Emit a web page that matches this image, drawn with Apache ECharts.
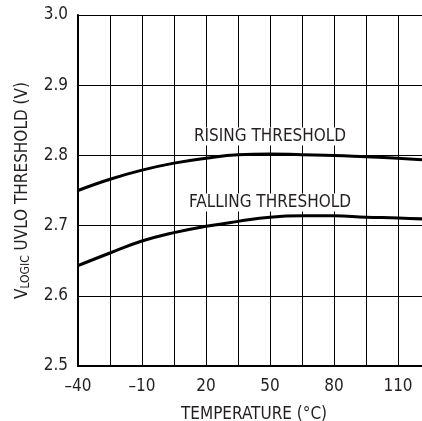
<!DOCTYPE html>
<html>
<head>
<meta charset="utf-8">
<script src="https://cdn.jsdelivr.net/npm/echarts@6/dist/echarts.min.js"></script>
<style>
html,body{margin:0;padding:0;background:#fff;}
#c{width:422px;height:421px;}
</style>
</head>
<body>
<div id="c"></div>
<script>
// Data
var temps = [-40, -25, -10, 5, 20, 35, 50, 65, 80, 95, 110, 125];
var rising = [2.750, 2.766, 2.779, 2.789, 2.796, 2.801, 2.802, 2.801, 2.800, 2.798, 2.796, 2.793];
var falling = [2.643, 2.661, 2.678, 2.690, 2.699, 2.706, 2.712, 2.714, 2.714, 2.712, 2.711, 2.709];
var xTickValues = [-40, -10, 20, 50, 80, 110];
var xTickLabels = ['\u201340', '\u201310', '20', '50', '80', '110'];
var seriesNames = ['RISING THRESHOLD', 'FALLING THRESHOLD'];
var labelAt = [[50, 2.827], [50, 2.733]];

var FONT = '"Liberation Sans Narrow", "DejaVu Sans Condensed", sans-serif';
var TXT = '#231f20';

function pairs(xs, ys) { return xs.map(function (x, i) { return [x, ys[i]]; }); }

var chart = echarts.init(document.getElementById('c'), null, {renderer: 'canvas'});
chart.setOption({
  animation: false,
  backgroundColor: '#fff',
  grid: {left: 78, right: -8, top: 15, bottom: 55, containLabel: false, outerBoundsMode: 'none'},
  xAxis: {
    type: 'value', min: -40, max: 125, interval: 15,
    name: 'TEMPERATURE (\u00B0C)', nameLocation: 'middle', nameGap: 40,
    nameTextStyle: {fontFamily: FONT, fontSize: 17, color: TXT},
    axisLine: {show: true, onZero: false, lineStyle: {color: '#000', width: 2}},
    axisTick: {show: false},
    axisLabel: {
      margin: 12, fontFamily: FONT, fontSize: 17, color: TXT,
      formatter: function (v) {
        var i = xTickValues.indexOf(Math.round(v));
        return i >= 0 ? xTickLabels[i] : '';
      }
    },
    splitLine: {show: true, lineStyle: {color: '#000', width: 1}}
  },
  yAxis: {
    type: 'value', min: 2.5, max: 3.0, interval: 0.1,
    name: '{v|V}{sub|LOGIC}{v| UVLO THRESHOLD (V)}',
    nameLocation: 'middle', nameGap: 46, nameRotate: 90,
    nameTextStyle: {
      fontFamily: FONT, fontSize: 17, color: TXT,
      rich: {
        v: {fontFamily: FONT, fontSize: 17, color: TXT},
        sub: {fontFamily: FONT, fontSize: 12, color: TXT, verticalAlign: 'bottom', padding: [6, 0, 0, 0]}
      }
    },
    axisLine: {show: true, onZero: false, lineStyle: {color: '#000', width: 2}},
    axisTick: {show: false},
    axisLabel: {
      margin: 10, fontFamily: FONT, fontSize: 17, color: TXT,
      formatter: function (v) { return v.toFixed(1); }
    },
    splitLine: {show: true, lineStyle: {color: '#000', width: 1}}
  },
  series: [
    {
      name: seriesNames[0], type: 'line', smooth: 0.45, symbol: 'none',
      lineStyle: {color: '#000', width: 3},
      data: pairs(temps, rising),
      markPoint: {
        symbol: 'rect', symbolSize: 0,
        label: {show: true, formatter: seriesNames[0], fontFamily: FONT, fontSize: 17, color: TXT,
                backgroundColor: '#fff', padding: [1, 3, 0, 3]},
        data: [{coord: labelAt[0]}]
      }
    },
    {
      name: seriesNames[1], type: 'line', smooth: 0.45, symbol: 'none',
      lineStyle: {color: '#000', width: 3},
      data: pairs(temps, falling),
      markPoint: {
        symbol: 'rect', symbolSize: 0,
        label: {show: true, formatter: seriesNames[1], fontFamily: FONT, fontSize: 17, color: TXT,
                backgroundColor: '#fff', padding: [1, 3, 0, 3]},
        data: [{coord: labelAt[1]}]
      }
    }
  ]
});
</script>
</body>
</html>
